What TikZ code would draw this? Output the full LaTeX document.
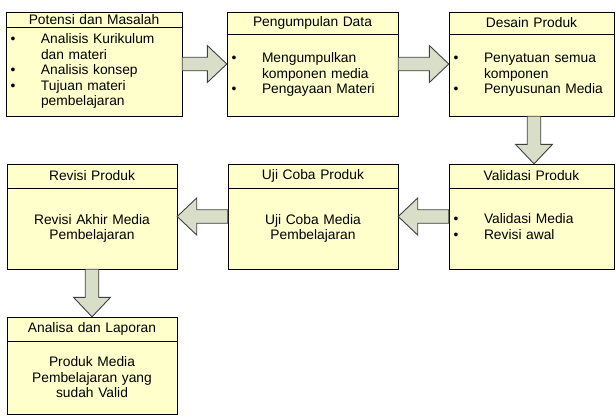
\documentclass[tikz,border=0pt]{standalone}
\usepackage{fontspec}
\setmainfont{Liberation Sans}
\usetikzlibrary{fit}
\usetikzlibrary{positioning}
\usetikzlibrary{calc}
\definecolor{box-yellow}{HTML}{FFFFCC}
\definecolor{arrow-green}{HTML}{D9DEC9}
\definecolor{arrow-line}{HTML}{404040}
\setlength{\parindent}{0pt}
\newcommand{\steplist}[1]{\begin{tabular}{@{}p{30.5pt}@{}l@{}}#1\end{tabular}}

\begin{document}
\begin{tikzpicture}[x=1pt, y=-1pt, font=\fontsize{13.8}{15.5}\selectfont,
  stagetitle/.style={draw, fill=box-yellow, line width=0.9pt, anchor=north west,
    inner sep=0pt, outer sep=0pt, align=center},
  stagebody/.style={draw, fill=box-yellow, line width=0.9pt, inner xsep=4.5pt,
    inner ysep=0pt, outer sep=0pt},
  fat/.style={draw=arrow-line, fill=arrow-green, line width=0.9pt, to path={
    let \p1=(\tikztostart), \p2=(\tikztotarget) in
    ($(\p1)!6.75pt!90:(\p2)$) -- ($(\p2)!19.5pt!(\p1)!6.75pt!-90:(\p1)$)
    -- ($(\p2)!19.5pt!(\p1)!18.5pt!-90:(\p1)$) -- (\p2)
    -- ($(\p2)!19.5pt!(\p1)!18.5pt!90:(\p1)$) -- ($(\p2)!19.5pt!(\p1)!6.75pt!90:(\p1)$)
    -- ($(\p1)!6.75pt!-90:(\p2)$) -- cycle}}]
\useasboundingbox (0,0) rectangle (616,416);

% top row
\node[stagetitle, text width=176pt, minimum height=15pt] (potensi-t) at (6,12) {Potensi dan Masalah};
\node[stagebody, text width=167pt, minimum height=89pt, align=left, below=0pt of potensi-t] (potensi-b) {\steplist{%
\textbullet & Analisis Kurikulum\\
 & dan materi\\
\textbullet & Analisis konsep\\
\textbullet & Tujuan materi\\
 & pembelajaran}};
\node[fit=(potensi-t)(potensi-b), inner sep=0pt] (potensi) {};

\node[stagetitle, text width=171pt, minimum height=22pt] (pengumpulan-t) at (227,12) {Pengumpulan Data};
\node[stagebody, text width=162pt, minimum height=82pt, align=left, below=0pt of pengumpulan-t] (pengumpulan-b) {\steplist{%
\textbullet & Mengumpulkan\\
 & komponen media\\
\textbullet & Pengayaan Materi}};
\node[fit=(pengumpulan-t)(pengumpulan-b), inner sep=0pt] (pengumpulan) {};

\node[stagetitle, text width=165pt, minimum height=22pt] (desain-t) at (449,12) {Desain Produk};
\node[stagebody, text width=156pt, minimum height=82pt, align=left, below=0pt of desain-t] (desain-b) {\steplist{%
\textbullet & Penyatuan semua\\
 & komponen\\
\textbullet & Penyusunan Media}};
\node[fit=(desain-t)(desain-b), inner sep=0pt] (desain) {};

% middle row
\node[stagetitle, text width=165pt, minimum height=24pt] (validasi-t) at (449,164) {Validasi Produk};
\node[stagebody, text width=156pt, minimum height=81pt, align=left, below=0pt of validasi-t] (validasi-b) {\steplist{%
\textbullet & Validasi Media\\
\textbullet & Revisi awal}};
\node[fit=(validasi-t)(validasi-b), inner sep=0pt] (validasi) {};

\node[stagetitle, text width=170pt, minimum height=24pt] (uji-t) at (228,164) {Uji Coba Produk};
\node[stagebody, text width=161pt, minimum height=81pt, align=center, below=0pt of uji-t] (uji-b) {Uji Coba Media\\Pembelajaran};
\node[fit=(uji-t)(uji-b), inner sep=0pt] (uji) {};

\node[stagetitle, text width=170pt, minimum height=24pt] (revisi-t) at (7,164) {Revisi Produk};
\node[stagebody, text width=161pt, minimum height=81pt, align=center, below=0pt of revisi-t] (revisi-b) {Revisi Akhir Media\\Pembelajaran};
\node[fit=(revisi-t)(revisi-b), inner sep=0pt] (revisi) {};

% bottom
\node[stagetitle, text width=170pt, minimum height=24pt] (analisa-t) at (7,317) {Analisa dan Laporan};
\node[stagebody, text width=161pt, minimum height=73pt, align=center, below=0pt of analisa-t] (analisa-b) {Produk Media\\Pembelajaran yang\\sudah Valid};
\node[fit=(analisa-t)(analisa-b), inner sep=0pt] (analisa) {};

% block arrows
\draw[fat] (potensi.east) to (pengumpulan.west);
\draw[fat] (pengumpulan.east) to (desain.west);
\draw[fat] ([xshift=2.5pt]desain.south) to ([xshift=2.5pt]validasi.north);
\draw[fat] (validasi.west) to (uji.east);
\draw[fat] (uji.west) to (revisi.east);
\draw[fat] (revisi.south) to (analisa.north);
\end{tikzpicture}
\end{document}
